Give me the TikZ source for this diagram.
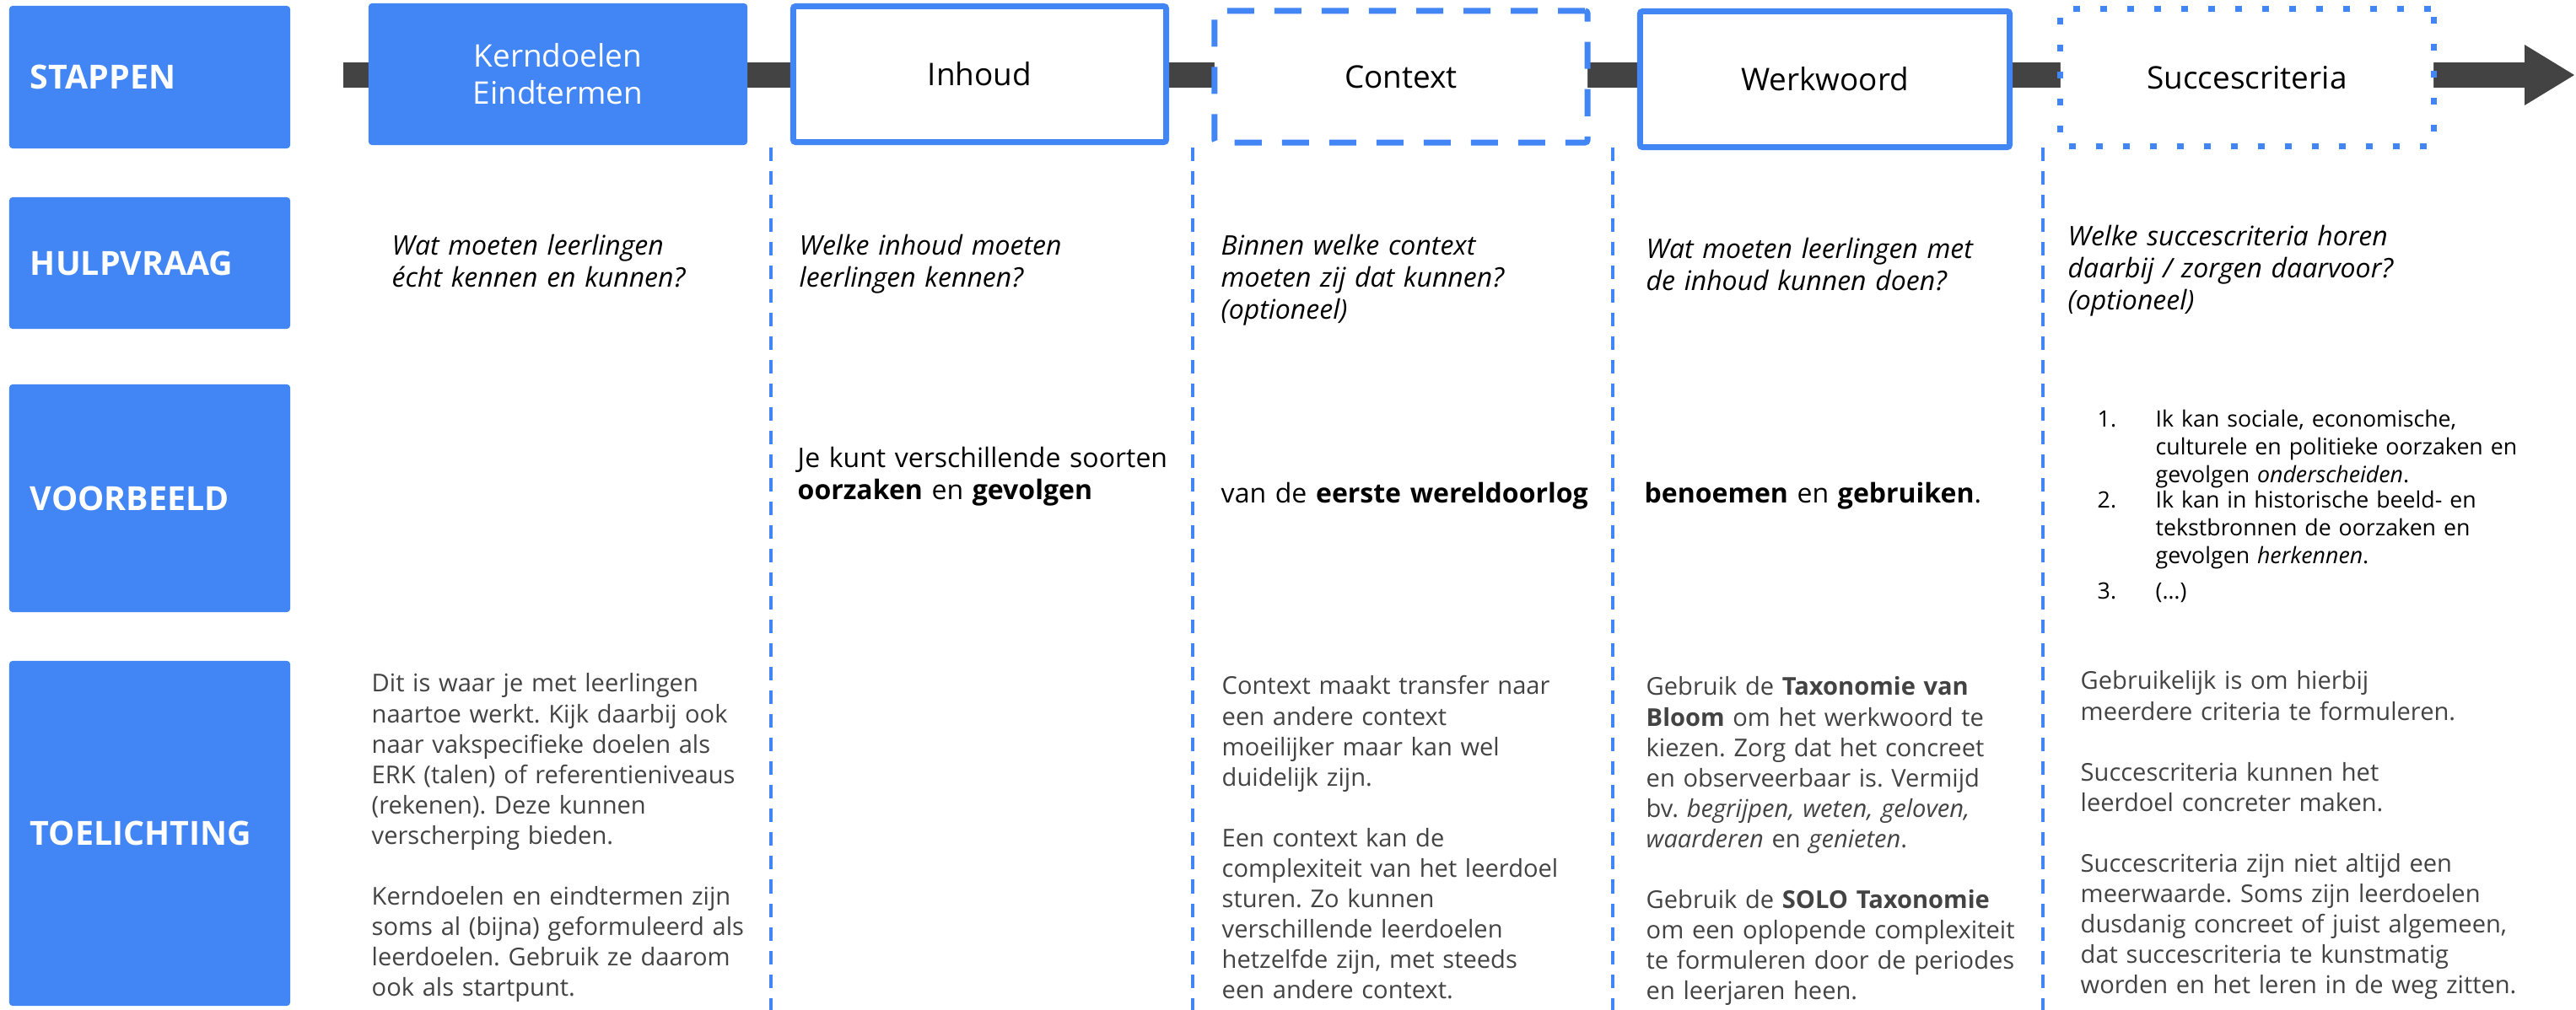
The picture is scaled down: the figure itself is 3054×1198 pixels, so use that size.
\documentclass[tikz,border=0pt]{standalone}
\usepackage{fontspec}
\setmainfont{Open Sans}

\definecolor{gblue}{HTML}{4285F4}
\definecolor{darkbar}{HTML}{434343}
\definecolor{notegray}{HTML}{434343}

\newcommand\fRow{\fontsize{11.2}{13}\selectfont\bfseries}
\newcommand\fStep{\fontsize{10.5}{12.5}\selectfont}
\newcommand\fAsk{\fontsize{9.1}{10.8}\selectfont\itshape}
\newcommand\fEx{\fontsize{9.1}{10.8}\selectfont}
\newcommand\fList{\fontsize{7.6}{9.25}\selectfont}
\newcommand\fNote{\fontsize{8.27}{10.25}\selectfont}

\tikzset{
	rowbox/.style={fill=gblue, rounded corners=0.04cm, text=white, font=\fRow,
		text width=2.83cm, align=left, inner xsep=0.25cm, inner ysep=0pt,
		minimum height=#1},
	stepbox/.style={draw=gblue, fill=white, line width=0.07cm, rounded corners=0.03cm,
		minimum width=4.42cm, minimum height=1.61cm, font=\fStep, align=center, inner sep=0pt},
	coltext/.style={anchor=base west, inner sep=0pt, align=left, text width=5.6cm},
}

\begin{document}
\frenchspacing
\begin{tikzpicture}[
		x={(0.01cm,0cm)},
		y={(0cm,-0.01cm)},
	]
	\useasboundingbox (0,0) rectangle (3054,1198);

	\foreach \nm/\t/\yc/\h in {stappen/STAPPEN/91.5/1.69, hulp/HULPVRAAG/312/1.56, voorb/VOORBEELD/591/2.70, toel/TOELICHTING/988.5/4.09}
		\node[rowbox=\h cm] (\nm) at (177.5,\yc) {\t};

	\coordinate (tl0) at (407,89);
	\coordinate (tlh) at (2993,89);
	\coordinate (tl1) at (3052,89);
	\draw[darkbar, line width=0.3cm] (tl0) -- (tlh);
	\fill[darkbar] (tl1) -- (2993,53) -- (2993,125) -- cycle;

	\node[fill=gblue, text=white, rounded corners=0.04cm, minimum width=4.49cm, minimum height=1.68cm,
		font=\fStep, align=center, inner sep=0pt] (kern) at (661.5,88) {Kerndoelen\\Eindtermen};
	\node[stepbox] (inhoud) at (1161.5,88) {Inhoud};
	\node[stepbox, dash pattern=on 0.32cm off 0.24cm, minimum height=1.56cm] (context) at (1661,91) {Context};
	\node[stepbox, minimum width=4.38cm] (werkw) at (2163.5,94) {Werkwoord};
	\node[stepbox, dash pattern=on 0.08cm off 0.24cm, minimum height=1.62cm] (succes) at (2664,92) {Succescriteria};

	\foreach \sx in {914,1414,1912,2422}
		\draw[gblue, line width=0.04cm, dash pattern=on 0.16cm off 0.12cm] (\sx,175) -- (\sx,1198);

	\foreach \nm/\x/\y/\t in {ask1/464/303/{Wat moeten leerlingen\\écht kennen en kunnen?},
		ask2/947/303/{Welke inhoud moeten\\leerlingen kennen?},
		ask3/1447/303/{Binnen welke context\\moeten zij dat kunnen?\\(optioneel)},
		ask4/1951/307/{Wat moeten leerlingen met\\de inhoud kunnen doen?},
		ask5/2451/292/{Welke succescriteria horen\\daarbij / zorgen daarvoor?\\(optioneel)}}
		\node[coltext, font=\fAsk] (\nm) at (\x,\y) {\t};

	\node[coltext, font=\fEx] (ex2) at (945,555) {Je kunt verschillende soorten\\\textbf{oorzaken} en \textbf{gevolgen}};
	\node[coltext, font=\fEx] (ex3) at (1447,597) {van de \textbf{eerste wereldoorlog}};
	\node[coltext, font=\fEx] (ex4) at (1949,597) {\textbf{benoemen} en \textbf{gebruiken}.};
	\foreach \i/\y/\t in {1/507/{Ik kan sociale, economische,\\culturele en politieke oorzaken en\\gevolgen \textit{onderscheiden}.},
		2/603/{Ik kan in historische beeld- en\\tekstbronnen de oorzaken en\\gevolgen \textit{herkennen}.},
		3/711/{(…)}}{
		\node[anchor=base west, inner sep=0pt, font=\fList] (nr\i) at (2486,\y) {\i.};
		\node[coltext, text width=4.6cm, font=\fList] (item\i) at (2555,\y) {\t};
	}

	\node[coltext, font=\fNote, text=notegray] (note1) at (440,821) {Dit is waar je met leerlingen\\
		naartoe werkt. Kijk daarbij ook\\naar vakspecifieke doelen als\\ERK (talen) of referentieniveaus\\
		(rekenen). Deze kunnen\\verscherping bieden.\\[\baselineskip]
		Kerndoelen en eindtermen zijn\\soms al (bijna) geformuleerd als\\leerdoelen. Gebruik ze daarom\\ook als startpunt.};
	\node[coltext, font=\fNote, text=notegray] (note3) at (1448,824) {Context maakt transfer naar\\
		een andere context\\moeilijker maar kan wel\\duidelijk zijn.\\[\baselineskip]
		Een context kan de\\complexiteit van het leerdoel\\sturen. Zo kunnen\\verschillende leerdoelen\\
		hetzelfde zijn, met steeds\\een andere context.};
	\node[coltext, font=\fNote, text=notegray] (note4) at (1951,825) {Gebruik de \textbf{Taxonomie van}\\
		\textbf{Bloom} om het werkwoord te\\kiezen. Zorg dat het concreet\\en observeerbaar is. Vermijd\\
		bv. \textit{begrijpen, weten, geloven,}\\\textit{waarderen} en \textit{genieten}.\\[\baselineskip]
		Gebruik de \textbf{SOLO Taxonomie}\\om een oplopende complexiteit\\te formuleren door de periodes\\en leerjaren heen.};
	\node[coltext, font=\fNote, text=notegray] (note5) at (2466,818) {Gebruikelijk is om hierbij\\
		meerdere criteria te formuleren.\\[\baselineskip]
		Succescriteria kunnen het\\leerdoel concreter maken.\\[\baselineskip]
		Succescriteria zijn niet altijd een\\meerwaarde. Soms zijn leerdoelen\\dusdanig concreet of juist algemeen,\\
		dat succescriteria te kunstmatig\\worden en het leren in de weg zitten.};
\end{tikzpicture}
\end{document}
